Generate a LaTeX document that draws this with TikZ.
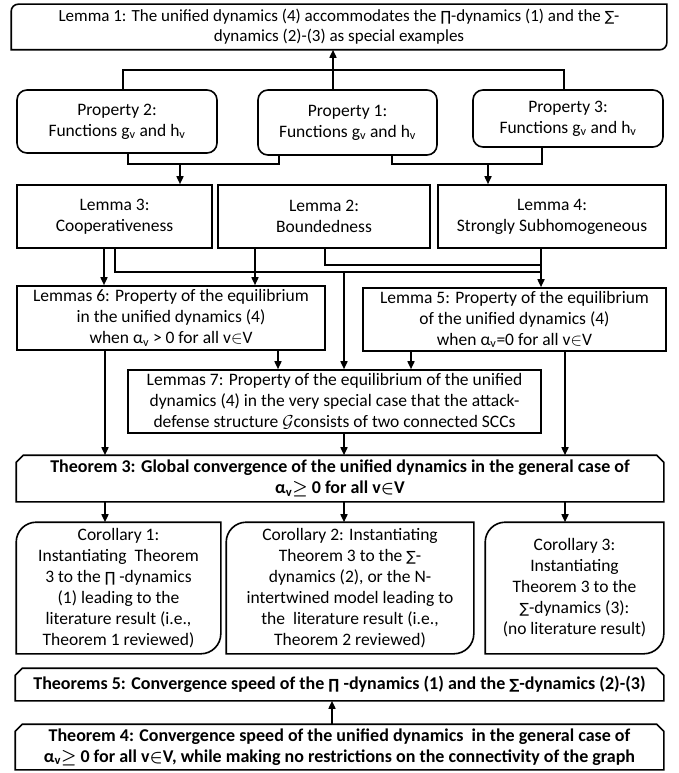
\documentclass[tikz,border=0pt]{standalone}
\usepackage{amsmath}
\usepackage{fontspec}
\setmainfont{Carlito}
\newfontfamily\symf{DejaVu Sans}
\usetikzlibrary{arrows.meta,calc}
\newcommand\Prd{{\symf\fontsize{14}{14}\selectfont ∏}}
\newcommand\Sm{{\symf\fontsize{14}{14}\selectfont ∑}}
\newcommand\rdiagbox[2]{%
  \draw ([xshift=#2]#1.north west) -- (#1.north east) -- ([yshift=#2]#1.south east)
    arc[start angle=0,end angle=-90,radius=#2pt] -- (#1.south west) -- ([yshift=-#2]#1.north west)
    arc[start angle=180,end angle=90,radius=#2pt] -- cycle;}
\newcommand\snipbox[2]{%
  \draw ([xshift=#2]#1.north west) -- ([xshift=-#2]#1.north east) -- ([yshift=-#2]#1.north east)
    -- (#1.south east) -- (#1.south west) -- ([yshift=-#2]#1.north west) -- cycle;}
\begin{document}
\begin{tikzpicture}[x=1pt,y=1pt,line width=1.6pt,
  txt/.style={inner sep=0pt,align=center,font=\fontsize{17.5}{21}\selectfont},
  btxt/.style={inner sep=0pt,align=center,font=\fontsize{18}{21}\selectfont\bfseries\boldmath},
  sq/.style={txt,draw},
  rnd/.style={txt,draw,rounded corners=10pt},
  arr/.style={-{Triangle[length=8pt,width=7pt]}}]
\useasboundingbox (0,0) rectangle (678,-773);

% row 1
\node[txt,minimum width=654pt,minimum height=44pt,font=\fontsize{17}{20}\selectfont] (l1) at (339,-27)
  {Lemma 1: The unified dynamics (4) accommodates the \Prd-dynamics (1) and the \Sm-\\dynamics (2)-(3) as special examples};
\rdiagbox{l1}{7}

% row 2
\node[rnd,minimum width=200pt,minimum height=63pt] (p2) at (117,-121.5)
  {Property 2:\\Functions g\textsubscript{v} and h\textsubscript{v}};
\node[rnd,minimum width=179pt,minimum height=65pt] (p1) at (347.5,-122.5)
  {Property 1:\\Functions g\textsubscript{v} and h\textsubscript{v}};
\node[rnd,minimum width=190pt,minimum height=57pt] (p3) at (568,-118.5)
  {Property 3:\\Functions g\textsubscript{v} and h\textsubscript{v}};

% row 3
\node[sq,minimum width=195pt,minimum height=63pt] (l3) at (114.5,-216.5) {Lemma 3:\\Cooperativeness};
\node[sq,minimum width=212pt,minimum height=63pt] (l2) at (324,-216.5) {Lemma 2:\\Boundedness};
\node[sq,minimum width=228pt,minimum height=63pt] (l4) at (552,-216.5) {Lemma 4:\\Strongly Subhomogeneous};

% row 4
\node[sq,minimum width=308pt,minimum height=64pt] (l6) at (171,-318)
  {Lemmas 6: Property of the equilibrium\\in the unified dynamics (4)\\when α\textsubscript{v} > 0 for all v$\in$V};
\node[sq,minimum width=303pt,minimum height=63pt] (l5) at (514.5,-319.5)
  {Lemma 5: Property of the equilibrium\\of the unified dynamics (4)\\when α\textsubscript{v}=0 for all v$\in$V};

% row 5
\node[sq,minimum width=413pt,minimum height=63pt] (l7) at (334.5,-401.5)
  {Lemmas 7: Property of the equilibrium of the unified\\dynamics (4) in the very special case that the attack-\\defense structure $\mathcal{G}$consists of two connected SCCs};

% theorem 3
\node[btxt,minimum width=646pt,minimum height=45pt] (t3) at (340,-478.5)
  {Theorem 3: Global convergence of the unified dynamics in the general case of\\α\textsubscript{v}$\geq$ 0 for all v$\in$V};
\snipbox{t3}{7}

% corollaries
\node[txt,minimum width=203pt,minimum height=130pt] (c1) at (118.5,-588)
  {Corollary 1:\\Instantiating\ \ Theorem\\3 to the \Prd\ -dynamics\\(1) leading to the\\literature result (i.e.,\\Theorem 1 reviewed)};
\rdiagbox{c1}{20}
\node[txt,minimum width=246pt,minimum height=130pt] (c2) at (350,-588)
  {Corollary 2: Instantiating\\Theorem 3 to the \Sm-\\dynamics (2), or the N-\\intertwined model leading to\\the\ \ literature result (i.e.,\\Theorem 2 reviewed)};
\rdiagbox{c2}{20}
\node[txt,minimum width=177pt,minimum height=130pt] (c3) at (574.5,-588)
  {Corollary 3:\\Instantiating\\Theorem 3 to the\\\Sm-dynamics (3):\\(no literature result)};
\rdiagbox{c3}{20}

% theorems 5 and 4
\node[btxt,minimum width=647pt,minimum height=31pt] (t5) at (339.5,-684.5)
  {Theorems 5: Convergence speed of the \Prd\ -dynamics (1) and the \Sm-dynamics (2)-(3)};
\snipbox{t5}{7}
\node[btxt,minimum width=647pt,minimum height=44pt] (t4) at (339.5,-747)
  {Theorem 4: Convergence speed of the unified dynamics\ \ in the general case of\\α\textsubscript{v}$\geq$ 0 for all v$\in$V, while making no restrictions on the connectivity of the graph};
\snipbox{t4}{7}

% connectors: properties <-> lemma 1
\coordinate (ja) at (123,-70);
\coordinate (jb) at (564,-70);
\coordinate (jc) at (333,-70);
\draw (ja |- p2.north) -- (ja) -- (jb) -- (jb |- p3.north);
\draw[arr] (jc |- p1.north) -- (jc |- l1.south);

% properties -> lemmas 3, 4
\coordinate (jd) at (128,-164);
\coordinate (je) at (279,-164);
\coordinate (jf) at (180,-164);
\draw (jd |- p2.south) -- (jd) -- (je) -- (je |- p1.south);
\draw[arr] (jf) -- (jf |- l3.north);
\coordinate (jg) at (392,-164);
\coordinate (jh) at (542,-164);
\coordinate (ji) at (488,-164);
\draw (jg |- p1.south) -- (jg) -- (jh) -- (jh |- p3.south);
\draw[arr] (ji) -- (ji |- l4.north);

% lemmas 3,2,4 -> lemmas 6,5,7
\coordinate (k1) at (104,0);
\draw[arr] (k1 |- l3.south) -- (k1 |- l6.north);
\coordinate (k2) at (115,-272);
\coordinate (k3) at (541,-272);
\draw (k2 |- l3.south) -- (k2) -- (k3);
\coordinate (k4) at (255,0);
\draw[arr] (k4 |- l2.south) -- (k4 |- l6.north);
\coordinate (k5) at (325,-265);
\coordinate (k6) at (541,-265);
\draw (k5 |- l2.south) -- (k5) -- (k6);
\coordinate (k7) at (541,0);
\draw[arr] (k7 |- l4.south) -- (k7 |- l5.north);
\coordinate (k8) at (344,-272);
\draw[arr] (k8) -- (k8 |- l7.north);

% lemmas 6,5 -> lemma 7
\coordinate (m1) at (278,0);
\draw[arr] (m1 |- l6.south) -- (m1 |- l7.north);
\coordinate (m2) at (411,0);
\draw[arr] (m2 |- l5.south) -- (m2 |- l7.north);

% -> theorem 3
\coordinate (n1) at (105,0);
\coordinate (n2) at (344,0);
\coordinate (n3) at (565,0);
\draw[arr] (n1 |- l6.south) -- (n1 |- t3.north);
\draw[arr] (n2 |- l7.south) -- (n2 |- t3.north);
\draw[arr] (n3 |- l5.south) -- (n3 |- t3.north);

% theorem 3 -> corollaries
\draw[arr] (n1 |- t3.south) -- (n1 |- c1.north);
\draw[arr] (n2 |- t3.south) -- (n2 |- c2.north);
\draw[arr] (n3 |- t3.south) -- (n3 |- c3.north);

% theorem 4 -> theorems 5
\coordinate (q) at (332,0);
\draw[arr] (q |- t4.north) -- (q |- t5.south);
\end{tikzpicture}
\end{document}
